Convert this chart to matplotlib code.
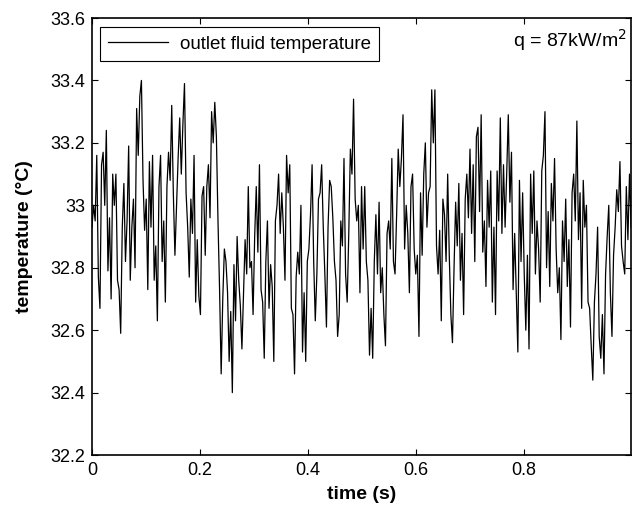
import numpy as np
import matplotlib
matplotlib.use("Agg")
import matplotlib.pyplot as plt
from matplotlib.ticker import FormatStrFormatter

plt.rcParams['font.family'] = ['Liberation Sans', 'DejaVu Sans']

# outlet fluid temperature (deg C) left to right
temp_seg1 = [32.93, 33.0, 32.95, 33.16, 32.77, 32.67, 33.13, 33.17, 33.0, 33.24,
             32.79, 32.96, 32.7, 33.1, 33.0, 33.1, 32.76, 32.73, 32.59, 32.93,
             33.07, 32.82, 32.95, 33.19, 32.76, 32.93, 33.02, 32.8, 33.31, 33.16,
             33.35, 33.4, 33.08, 32.92, 33.02, 32.73, 33.14, 32.93, 33.16, 32.76,
             32.87, 32.63, 33.06]
temp_seg2 = [33.16, 32.82, 32.95, 32.69, 33.06, 33.17, 33.08, 33.32, 33.04, 32.84,
             33.0, 33.15, 33.28, 33.1, 33.26, 33.39, 33.04, 32.93, 32.77, 33.02,
             32.91, 33.16, 32.69, 32.89, 32.71, 32.65, 33.03, 33.06, 32.84, 33.06,
             33.13, 32.96, 33.3, 33.2, 33.33, 33.22, 32.95, 32.73, 32.46, 32.7,
             32.86, 32.82]
temp_seg3 = [32.72, 32.5, 32.66, 32.4, 32.81, 32.63, 32.9, 32.76, 32.68, 32.54,
             32.72, 32.89, 32.78, 33.06, 32.8, 32.82, 32.65, 32.9, 33.06, 32.85,
             33.13, 32.73, 32.69, 32.51, 32.82, 32.95, 32.67, 32.81, 32.74, 32.5,
             32.95, 33.0, 33.1, 32.91, 33.04, 32.93, 32.76, 33.16, 33.04, 33.13,
             32.67]
temp_seg4 = [32.65, 32.46, 32.77, 32.85, 32.78, 33.0, 32.53, 32.72, 32.5, 32.82,
             32.86, 32.97, 33.13, 32.82, 32.63, 32.78, 33.02, 33.04, 33.13, 32.93,
             32.78, 32.61, 32.93, 33.08, 33.06, 32.96, 32.82, 32.76, 32.58, 32.65,
             32.95, 32.87, 33.15, 32.78, 32.69, 32.91, 33.18, 33.1, 33.34, 33.02,
             32.95, 33.0]
temp_seg5 = [32.72, 33.06, 32.86, 33.06, 32.82, 32.76, 32.52, 32.67, 32.51, 32.82,
             32.97, 32.78, 33.01, 32.72, 32.8, 32.65, 32.55, 32.91, 32.95, 32.86,
             33.15, 32.82, 32.78, 32.97, 33.18, 33.06, 33.15, 33.29, 32.86, 33.0,
             32.91, 32.72, 33.06, 33.1, 32.86, 32.78, 32.84, 32.58, 33.04, 32.84,
             33.1, 33.2, 32.93, 33.04, 33.06]
temp_seg6 = [33.37, 33.2, 33.37, 32.87, 32.78, 32.92, 32.63, 33.02, 32.97, 32.82,
             33.1, 32.84, 32.65, 32.56, 32.8, 33.01, 32.87, 33.07, 32.76, 32.91,
             32.65, 33.02, 33.1, 32.96, 33.18, 32.91, 33.13, 32.82, 33.22, 33.25,
             32.98, 33.29, 32.85, 32.95, 32.74, 33.08, 32.93, 33.11, 32.69, 32.93,
             32.65, 33.11, 32.95]
temp_seg7 = [33.28, 32.91, 33.13, 32.93, 33.1, 33.29, 33.01, 33.17, 32.73, 32.91,
             32.72, 32.53, 33.08, 32.82, 33.04, 32.78, 32.6, 32.84, 32.54, 33.1,
             32.91, 33.11, 32.78, 32.95, 32.86, 32.69, 33.11, 33.16, 33.3, 32.8,
             32.98, 32.74, 33.07, 32.95, 33.15, 32.86, 32.72, 32.8, 32.57, 32.95,
             32.82, 33.02]
temp_seg8 = [32.74, 32.89, 32.61, 33.04, 33.1, 32.95, 33.27, 32.89, 33.04, 32.67,
             33.08, 32.93, 33.0, 32.69, 32.67, 32.55, 32.44, 32.69, 32.78, 32.93,
             32.58, 32.51, 32.65, 32.46, 32.78, 32.9, 33.0, 32.72, 32.58, 32.84,
             32.93, 33.05, 32.98, 33.14, 32.87, 32.82, 32.78, 33.06, 32.89, 33.1,
             32.93]

temp = np.array(temp_seg1 + temp_seg2 + temp_seg3 + temp_seg4 +
                temp_seg5 + temp_seg6 + temp_seg7 + temp_seg8)
t_end = 0.999
time = np.linspace(0, t_end, len(temp))   # uniform sampling

x_ticks = [0, 0.2, 0.4, 0.6, 0.8]
y_ticks = [32.2, 32.4, 32.6, 32.8, 33, 33.2, 33.4, 33.6]

fig = plt.figure(figsize=(6.33, 5.09), dpi=100)
ax = fig.add_axes([0.1453, 0.106, 0.8517, 0.8586])

ax.plot(time, temp, color="black", linewidth=0.9,
        label="outlet fluid temperature")

ax.set_xlim(0, t_end)
ax.set_ylim(32.2, 33.6)
ax.set_xticks(x_ticks)
ax.set_yticks(y_ticks)
ax.xaxis.set_major_formatter(FormatStrFormatter('%g'))
ax.yaxis.set_major_formatter(FormatStrFormatter('%g'))
ax.tick_params(direction="in", top=True, right=True, length=4,
               width=0.8, labelsize=13, pad=5)
for s in ax.spines.values():
    s.set_linewidth(1.2)

ax.set_xlabel("time (s)", fontsize=14, fontweight="bold", labelpad=5)
ax.set_ylabel("temperature (°C)", fontsize=14, fontweight="bold", labelpad=12)

leg = ax.legend(loc="upper left", bbox_to_anchor=(0.015, 0.979),
                borderaxespad=0, fontsize=13.5, fancybox=False, framealpha=1,
                edgecolor="black", handlelength=3.2, borderpad=0.45,
                handletextpad=0.6)
leg.get_frame().set_linewidth(0.8)

ax.text(0.993, 0.95, "q = 87kW/m$^2$", transform=ax.transAxes,
        ha="right", va="center", fontsize=14)

fig.savefig("out.png", dpi=100)
